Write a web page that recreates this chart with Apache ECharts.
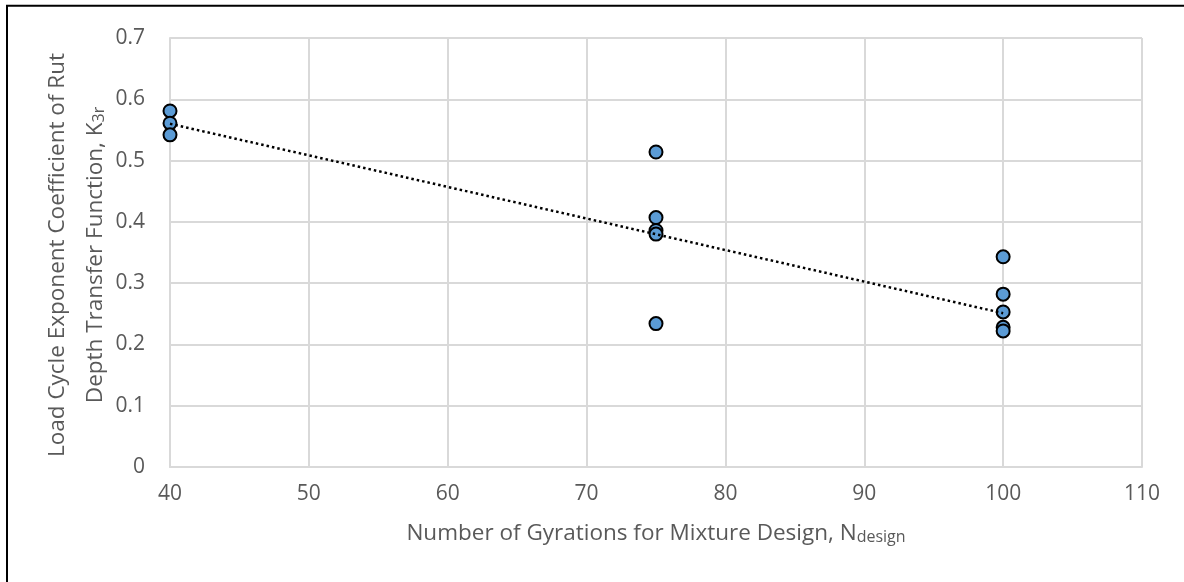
<!DOCTYPE html>
<html>
<head>
<meta charset="utf-8">
<script src="https://cdn.jsdelivr.net/npm/echarts@6/dist/echarts.min.js"></script>
<style>
html,body{margin:0;padding:0;background:#fff;}
#chart{width:1184px;height:582px;}
</style>
</head>
<body>
<div id="chart"></div>
<script>
// Data
const gyrations = [40, 40, 40, 75, 75, 75, 75, 75, 100, 100, 100, 100, 100];
const k3r = [0.581, 0.561, 0.542, 0.514, 0.407, 0.386, 0.380, 0.234, 0.343, 0.282, 0.253, 0.228, 0.222];
const trendX = [40, 100];
const trendY = [0.560, 0.251];
const xTicks = [40, 50, 60, 70, 80, 90, 100, 110];
const yTicks = [0, 0.1, 0.2, 0.3, 0.4, 0.5, 0.6, 0.7];

const FONT = '"Open Sans", "Noto Sans", sans-serif';
const TXT = '#595959';
const GRID = '#d9d9d9';

const chart = echarts.init(document.getElementById('chart'), null, {renderer: 'canvas'});

const scatterData = gyrations.map((x, i) => [x, k3r[i]]);
const trendData = trendX.map((x, i) => [x, trendY[i]]);

chart.setOption({
  backgroundColor: '#ffffff',
  animation: false,
  grid: {left: 170, right: 42, top: 38, bottom: 115, containLabel: false},
  xAxis: {
    type: 'value',
    min: xTicks[0], max: xTicks[xTicks.length - 1], interval: 10,
    axisLine: {show: true, lineStyle: {color: GRID, width: 2}},
    axisTick: {show: false},
    splitLine: {show: true, lineStyle: {color: GRID, width: 2}},
    axisLabel: {color: TXT, fontFamily: FONT, fontSize: 21, margin: 17}
  },
  yAxis: {
    type: 'value',
    min: yTicks[0], max: yTicks[yTicks.length - 1], interval: 0.1,
    axisLine: {show: true, lineStyle: {color: GRID, width: 2}},
    axisTick: {show: false},
    splitLine: {show: true, lineStyle: {color: GRID, width: 2}},
    axisLabel: {
      color: TXT, fontFamily: FONT, fontSize: 21, margin: 25,
      formatter: v => (Math.abs(v) < 1e-9 ? '0' : v.toFixed(1))
    }
  },
  series: [
    {
      type: 'scatter',
      data: scatterData,
      symbol: 'circle',
      symbolSize: 13,
      itemStyle: {color: '#5B9BD5', borderColor: '#000000', borderWidth: 2, opacity: 1},
      z: 2
    },
    {
      type: 'line',
      data: trendData,
      showSymbol: false,
      symbol: 'none',
      lineStyle: {color: '#000000', width: 2.5, type: [2.5, 3]},
      z: 3
    }
  ],
  graphic: [
    {
      type: 'rect',
      shape: {x: 7, y: 5.7, width: 1250, height: 650},
      style: {fill: null, stroke: '#000000', lineWidth: 2},
      silent: true
    },
    {
      type: 'text',
      x: 656, y: 530,
      style: {
        text: '{a|Number of Gyrations for Mixture Design, N}{s|design}',
        align: 'center', verticalAlign: 'middle',
        rich: {
          a: {fontFamily: FONT, fontSize: 22.5, fill: TXT, color: TXT, verticalAlign: 'bottom', lineHeight: 30},
          s: {fontFamily: FONT, fontSize: 16, fill: TXT, color: TXT, verticalAlign: 'bottom', lineHeight: 22}
        }
      }
    },
    {
      type: 'text',
      x: 58, y: 255, rotation: Math.PI / 2,
      style: {
        text: 'Load Cycle Exponent Coefficient of Rut',
        align: 'center', verticalAlign: 'middle',
        fontFamily: FONT, fontSize: 22.5, fill: TXT
      }
    },
    {
      type: 'text',
      x: 92, y: 255, rotation: Math.PI / 2,
      style: {
        text: '{a|Depth Transfer Function, K}{s|3r}',
        align: 'center', verticalAlign: 'middle',
        rich: {
          a: {fontFamily: FONT, fontSize: 22.5, fill: TXT, color: TXT, verticalAlign: 'bottom', lineHeight: 30},
          s: {fontFamily: FONT, fontSize: 16, fill: TXT, color: TXT, verticalAlign: 'bottom', lineHeight: 22}
        }
      }
    }
  ]
});
</script>
</body>
</html>
